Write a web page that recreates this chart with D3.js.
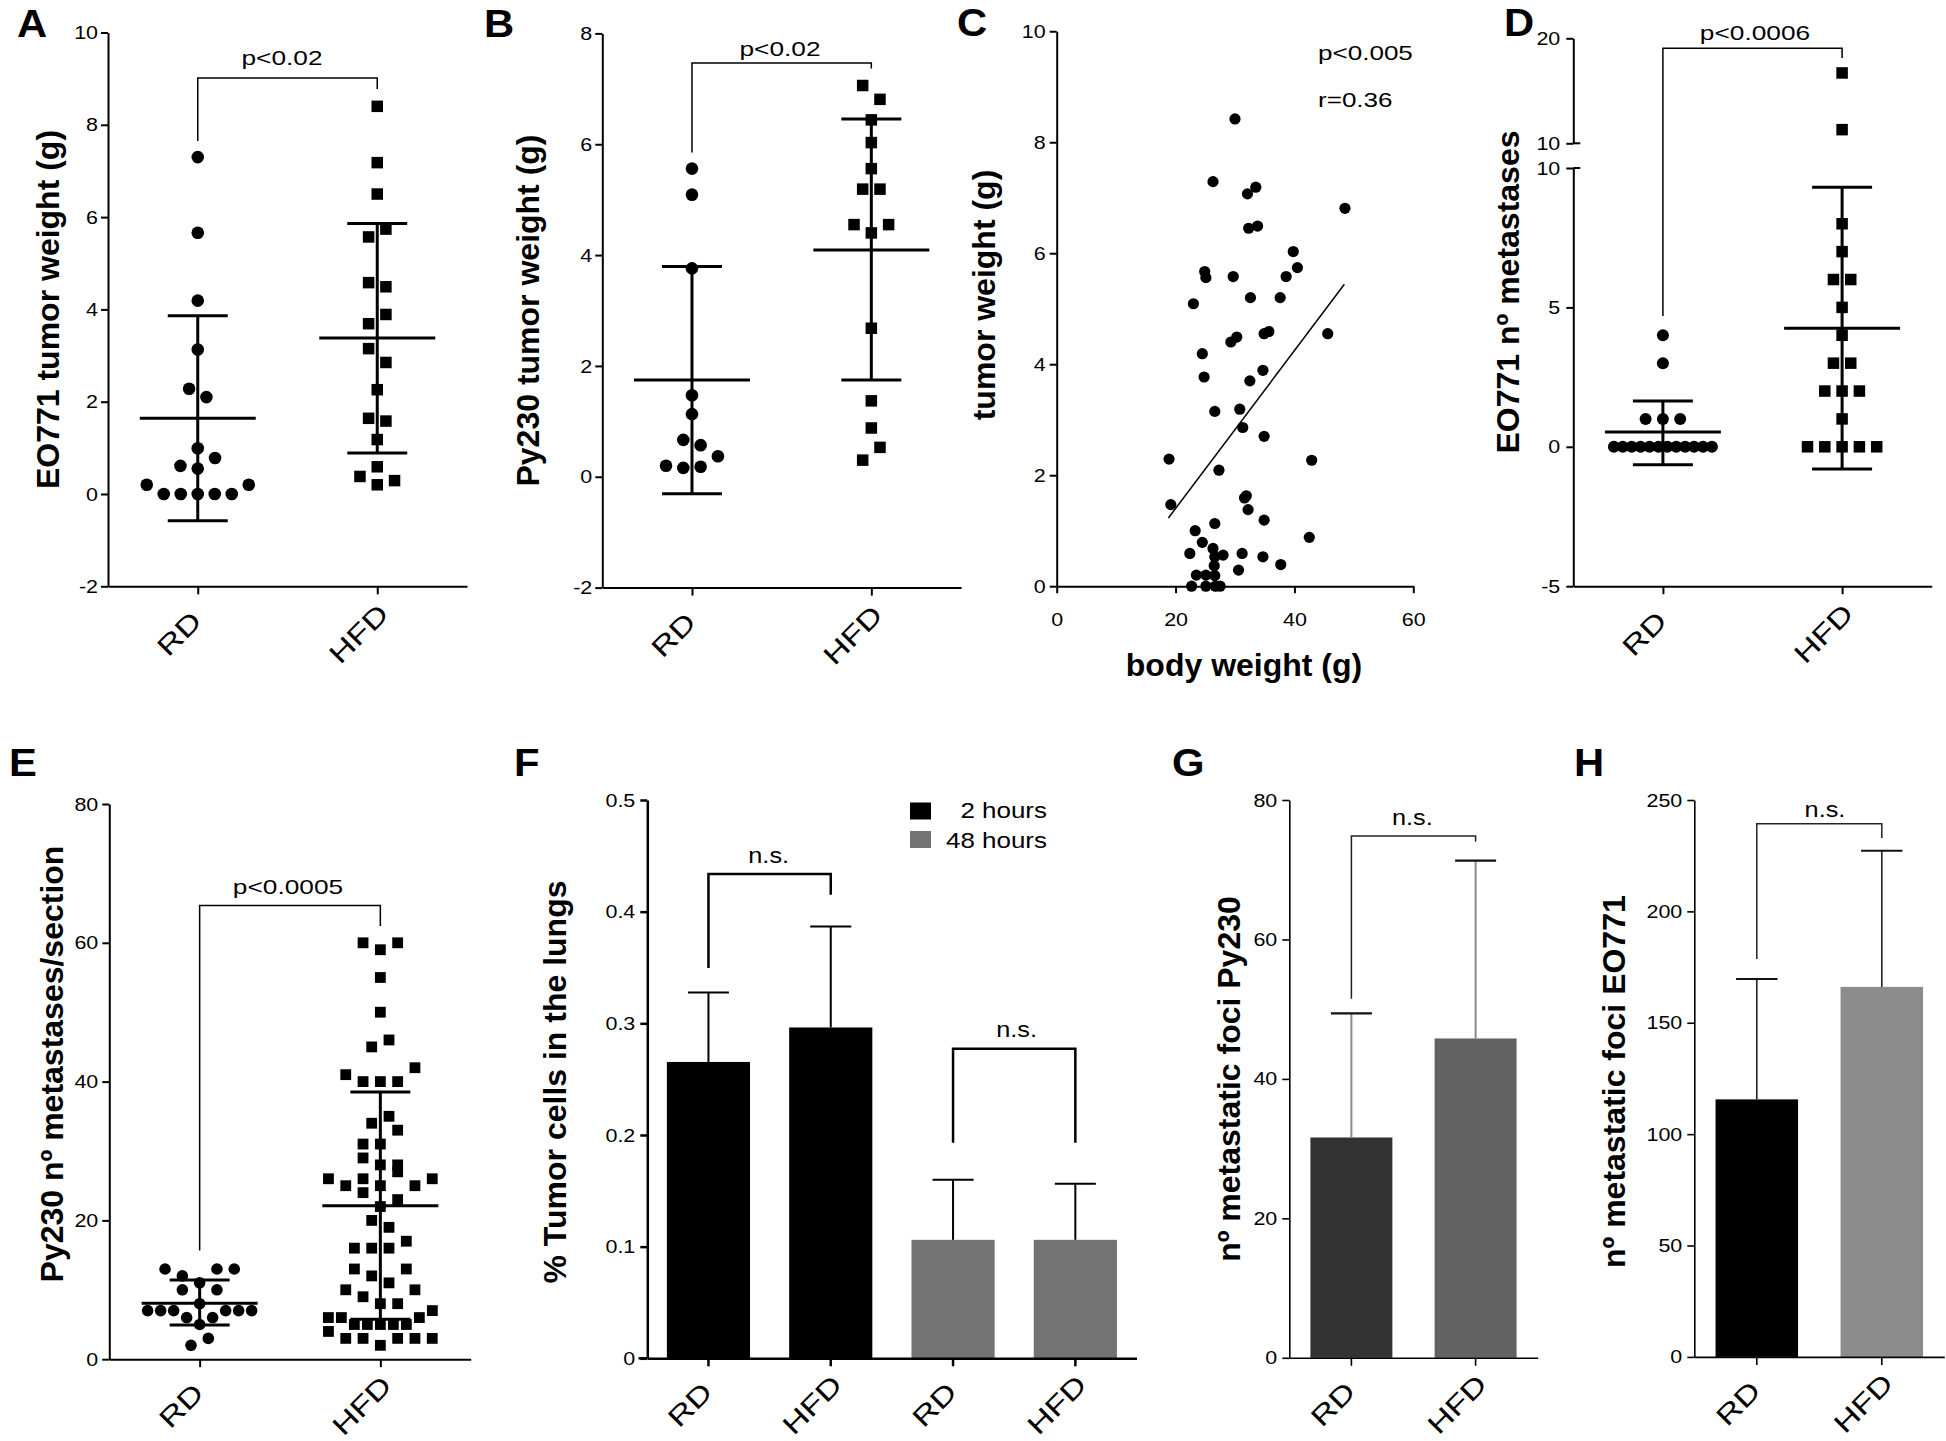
<!DOCTYPE html>
<html><head><meta charset="utf-8">
<script src="https://cdn.jsdelivr.net/npm/d3@7"></script>
<style>
body{margin:0;background:#fff}
svg{display:block}
text{font-family:"Liberation Sans",Arial,Helvetica,sans-serif}
</style>
</head><body>
<svg id="fig" width="1946" height="1441"></svg>
<script>
// ---------------- DATA ----------------
const cats = ["RD", "HFD"];

// A: EO771 tumor weight (g)
const aRD  = [7.3, 5.66, 4.19, 3.13, 2.1, 2.28, 0.99, 0.55, 0.78, 0.61, 0, 0, 0, 0, 0, 0.2, 0.2];
const aHFD = [8.4, 7.18, 6.5, 5.74, 5.57, 4.49, 4.58, 3.89, 3.69, 2.85, 3.15, 2.26, 1.58, 1.64, 1.18, 0.59, 0.2, 0.29, 0.38];
const aMean = [1.64, 3.38], aSdLow = [-0.58, 0.89], aSdHigh = [3.86, 5.86];
const aTicks = [-2, 0, 2, 4, 6, 8, 10];

// B: Py230 tumor weight (g)
const bRD  = [5.56, 5.09, 3.76, 1.47, 1.13, 0.57, 0.665, 0.18, 0.16, 0.37, 0.2];
const bHFD = [6.81, 7.06, 6.44, 6.03, 5.56, 5.19, 5.19, 4.40, 4.55, 4.55, 2.68, 1.37, 0.88, 0.53, 0.30];
const bMean = [1.745, 4.09], bSdLow = [-0.305, 1.745], bSdHigh = [3.795, 6.455];
const bTicks = [-2, 0, 2, 4, 6, 8];

// C: tumor weight vs body weight
const cBody  = [30.0, 26.3, 32.1, 33.5, 48.5, 32.3, 33.8, 39.8, 24.9, 25.1, 29.7, 40.5, 38.6, 23.0, 32.6, 37.6, 29.3, 30.3, 34.9, 35.7, 45.6, 24.5, 24.8, 34.7, 32.5, 26.6, 30.8, 31.3, 34.9, 18.9, 42.9, 27.3, 19.2, 31.6, 31.9, 32.2, 26.6, 34.9, 23.3, 42.5, 24.5, 26.3, 22.4, 28.0, 31.2, 34.7, 37.7, 26.6, 26.5, 30.6, 23.5, 25.1, 26.6, 22.7, 25.1, 26.7, 27.5];
const cTumor = [8.42, 7.29, 7.07, 7.19, 6.81, 6.45, 6.49, 6.03, 5.67, 5.56, 5.58, 5.74, 5.58, 5.09, 5.2, 5.2, 4.40, 4.49, 4.55, 4.59, 4.55, 4.19, 3.77, 3.89, 3.70, 3.15, 3.19, 2.86, 2.70, 2.29, 2.27, 2.09, 1.47, 1.59, 1.63, 1.38, 1.13, 1.19, 1.0, 0.88, 0.79, 0.68, 0.59, 0.56, 0.59, 0.53, 0.39, 0.53, 0.37, 0.29, 0.2, 0.2, 0.19, 0, 0, 0, 0];
const cFitX = [18.8, 48.4], cFitY = [1.23, 5.44];
const cXTicks = [0, 20, 40, 60], cYTicks = [0, 2, 4, 6, 8, 10];

// D: EO771 nº metastases (broken axis)
const dRD  = [4, 3, 1, 1, 1, 0, 0, 0, 0, 0, 0, 0, 0, 0, 0, 0, 0];
const dHFD = [16.7, 11.3, 8, 7, 6, 6, 5, 4, 3, 3, 2, 2, 2, 1, 0, 0, 0, 0, 0];
const dMean = [0.53, 4.25], dSdLow = [-0.64, -0.80], dSdHigh = [1.64, 9.31];
const dTicksLow = [-5, 0, 5, 10], dTicksHigh = [10, 20];

// E: Py230 nº metastases/section
const eRD  = [11, 13, 12, 13, 13, 8, 10, 10, 5, 6, 6, 7, 7, 7, 7, 7, 7, 3, 2];
const eHFD = [59, 60, 60, 55, 50, 46, 45, 40, 40, 40, 42, 41, 35, 34, 31, 33, 31, 28, 28, 29, 25, 27, 26, 25, 25, 26, 26, 22, 23, 24, 19, 20, 16, 16, 17, 16, 11, 12, 13, 13, 8, 8, 9, 10, 10, 5, 5, 5, 5, 5, 6, 6, 7, 6, 2, 3, 3, 3, 3, 3, 4];
const eMean = [8.05, 22.1], eSdLow = [4.93, 5.74], eSdHigh = [11.4, 38.5];
const eTicks = [0, 20, 40, 60, 80];

// F: % tumor cells in the lungs
const fGroups = ["RD", "HFD", "RD", "HFD"];
const fSeries = ["2 hours", "2 hours", "48 hours", "48 hours"];
const fMean = [0.2654, 0.2963, 0.1061, 0.1061];
const fErr  = [0.0622, 0.0904, 0.0537, 0.0503];
const fTicks = [0, 0.1, 0.2, 0.3, 0.4, 0.5];
const fLegend = ["2 hours", "48 hours"];

// G: nº metastatic foci Py230
const gMean = [31.6, 45.8], gErr = [17.8, 25.5];
const gTicks = [0, 20, 40, 60, 80];

// H: nº metastatic foci EO771
const hMean = [115.6, 166.1], hErr = [54.1, 61.1];
const hTicks = [0, 50, 100, 150, 200, 250];

// ---------------- HELPERS ----------------
const svg = d3.select("#fig");
svg.append("rect").attr("width", 1946).attr("height", 1441).attr("fill", "#fff");

function stretch(sel, f) {
  sel.each(function () {
    const L = this.getComputedTextLength();
    this.setAttribute("textLength", L * f);
    this.setAttribute("lengthAdjust", "spacingAndGlyphs");
  });
}
function label(g, s, o) {
  const t = g.append("text").text(s)
    .attr("font-size", o.size)
    .attr("font-weight", o.bold ? "bold" : "normal")
    .attr("text-anchor", o.anchor || "start")
    .attr("fill", o.fill || "#000");
  if (o.rotate) t.attr("transform", `translate(${o.x},${o.y}) rotate(${o.rotate})`);
  else t.attr("x", o.x).attr("y", o.y);
  if (o.stretch && o.stretch !== 1) stretch(t, o.stretch);
  return t;
}
function styleAxis(ax, sw) {
  ax.attr("font-family", null).attr("font-size", null);
  ax.select(".domain").attr("stroke", "#000").attr("stroke-width", sw);
  ax.selectAll(".tick line").attr("stroke", "#000").attr("stroke-width", sw);
  const tx = ax.selectAll(".tick text").attr("font-size", 19).attr("fill", "#000");
  stretch(tx, 1.13);
}
function yAxis(g, scale, ticks, x, opt = {}) {
  const ax = g.append("g").attr("transform", `translate(${x},0)`)
    .call(d3.axisLeft(scale).tickValues(ticks).tickSize(7).tickPadding(opt.pad || 4).tickSizeOuter(0)
      .tickFormat(opt.fmt || (d => d)));
  styleAxis(ax, opt.sw || 2);
  return ax;
}
function xAxisBlank(g, scale, y, sw = 2) {
  const ax = g.append("g").attr("transform", `translate(0,${y})`)
    .call(d3.axisBottom(scale).tickSize(8).tickSizeOuter(0).tickFormat(() => ""));
  ax.attr("font-family", null).attr("font-size", null);
  ax.select(".domain").attr("stroke", "#000").attr("stroke-width", sw);
  ax.selectAll(".tick line").attr("stroke", "#000").attr("stroke-width", sw);
  ax.selectAll(".tick text").remove();
  return ax;
}
function catLabels(g, xs, names, axisY, dy) {
  names.forEach((n, i) => label(g, n, { x: xs[i] - 12, y: axisY + dy, rotate: -45, anchor: "middle", size: 27, stretch: 1.27 }));
}
function bracket(g, x1, y1, yTop, x2, y2, txt, tx, ty, o = {}) {
  g.append("path").attr("d", `M${x1},${y1}V${yTop}H${x2}V${y2}`)
    .attr("fill", "none").attr("stroke", o.stroke || "#000").attr("stroke-width", o.sw || 1.5);
  label(g, txt, { x: tx, y: ty, size: o.size || 21, anchor: "middle", stretch: o.stretch || 1.25 });
}
// GraphPad-like row scatter: rows of near-equal values, centred, spaced
function swarm(vals, ys, thr = 15, step = 17.3, maxHalf = 51) {
  const idx = vals.map((v, i) => i).sort((a, b) => vals[a] - vals[b] || a - b);
  const rows = []; let cur = null;
  idx.forEach(i => {
    const y = ys(vals[i]);
    if (cur && Math.abs(y - cur.y0) < thr) cur.m.push(i);
    else { cur = { y0: y, m: [i] }; rows.push(cur); }
  });
  const dx = new Array(vals.length).fill(0);
  rows.forEach(r => {
    const m = r.m.slice().sort((a, b) => a - b), n = m.length;
    if (n === 1) return;
    const s = Math.min(step, 2 * maxHalf / (n - 1));
    const slots = d3.range(n).map(k => (k - (n - 1) / 2) * s)
      .sort((a, b) => Math.abs(a) - Math.abs(b) || b - a);
    m.forEach((i, j) => dx[i] = slots[j]);
  });
  return dx;
}
function dots(g, vals, cx, ys, shape, o = {}) {
  const dx = swarm(vals, ys, 15, 17.3, o.maxHalf || 51);
  const pts = vals.map((v, i) => ({ x: cx + dx[i], y: ys(v) }));
  if (shape === "circle") {
    g.append("g").selectAll("circle").data(pts).join("circle")
      .attr("cx", d => d.x).attr("cy", d => d.y).attr("r", o.r || 6).attr("fill", "#000");
  } else {
    const s = o.s || 11.5;
    g.append("g").selectAll("rect").data(pts).join("rect")
      .attr("x", d => d.x - s / 2).attr("y", d => d.y - s / 2).attr("width", s).attr("height", s).attr("fill", "#000");
  }
}
function meanSd(g, cx, ys, mean, lo, hi) {
  const w = 58, c = 30;
  const gg = g.append("g").attr("stroke", "#000").attr("stroke-width", 3);
  gg.append("line").attr("x1", cx).attr("x2", cx).attr("y1", ys(lo)).attr("y2", ys(hi));
  gg.append("line").attr("x1", cx - w).attr("x2", cx + w).attr("y1", ys(mean)).attr("y2", ys(mean));
  gg.append("line").attr("x1", cx - c).attr("x2", cx + c).attr("y1", ys(lo)).attr("y2", ys(lo));
  gg.append("line").attr("x1", cx - c).attr("x2", cx + c).attr("y1", ys(hi)).attr("y2", ys(hi));
}
function panelLetter(s, x, y) {
  label(svg, s, { x, y, size: 38, bold: true, stretch: 1.1 });
}

// ---------------- PANEL A ----------------
{
  const g = svg.append("g");
  const y = d3.scaleLinear().domain([-2, 10]).range([586.3, 32.5]);
  const x = d3.scalePoint().domain(cats).range([108, 467]).padding(0.5);
  yAxis(g, y, aTicks, 108, { pad: 3 });
  xAxisBlank(g, x, 586.3);
  dots(g, aRD, x("RD"), y, "circle", { r: 6.3 });
  dots(g, aHFD, x("HFD"), y, "square");
  meanSd(g, x("RD"), y, aMean[0], aSdLow[0], aSdHigh[0]);
  meanSd(g, x("HFD"), y, aMean[1], aSdLow[1], aSdHigh[1]);
  bracket(g, x("RD"), 141, 78, x("HFD"), 89, "p<0.02", 282, 65);
  catLabels(g, [x("RD"), x("HFD")], cats, 586.3, 54);
  label(g, "EO771  tumor weight (g)", { x: 59, y: 309.5, rotate: -90, anchor: "middle", size: 32, bold: true });
  panelLetter("A", 17, 37);
}
// ---------------- PANEL B ----------------
{
  const g = svg.append("g");
  const y = d3.scaleLinear().domain([-2, 8]).range([587.6, 33.4]);
  const x = d3.scalePoint().domain(cats).range([602.3, 961]).padding(0.5);
  yAxis(g, y, bTicks, 602.3, { pad: 3 });
  xAxisBlank(g, x, 587.6);
  dots(g, bRD, x("RD"), y, "circle", { r: 6.3 });
  dots(g, bHFD, x("HFD"), y, "square");
  meanSd(g, x("RD"), y, bMean[0], bSdLow[0], bSdHigh[0]);
  meanSd(g, x("HFD"), y, bMean[1], bSdLow[1], bSdHigh[1]);
  bracket(g, x("RD"), 152.6, 62.9, x("HFD"), 68.5, "p<0.02", 780, 56.4);
  catLabels(g, [x("RD"), x("HFD")], cats, 587.6, 54);
  label(g, "Py230  tumor weight (g)", { x: 539, y: 310.5, rotate: -90, anchor: "middle", size: 32, bold: true });
  panelLetter("B", 484, 37);
}
// ---------------- PANEL C ----------------
{
  const g = svg.append("g");
  const x = d3.scaleLinear().domain([0, 60]).range([1056.7, 1413.3]);
  const y = d3.scaleLinear().domain([0, 10]).range([586.2, 31.25]);
  yAxis(g, y, cYTicks, 1056.7, { pad: 4 });
  const ax = g.append("g").attr("transform", "translate(0,586.2)")
    .call(d3.axisBottom(x).tickValues(cXTicks).tickSize(7).tickPadding(19).tickSizeOuter(0));
  styleAxis(ax, 2);
  g.append("g").selectAll("circle").data(cBody.map((b, i) => [b, cTumor[i]])).join("circle")
    .attr("cx", d => x(d[0])).attr("cy", d => y(d[1])).attr("r", 5.6).attr("fill", "#000");
  g.append("line").attr("x1", x(cFitX[0])).attr("y1", y(cFitY[0])).attr("x2", x(cFitX[1])).attr("y2", y(cFitY[1]))
    .attr("stroke", "#000").attr("stroke-width", 1.5);
  label(g, "p<0.005", { x: 1318, y: 60, size: 21, stretch: 1.24 });
  label(g, "r=0.36", { x: 1318, y: 107, size: 21, stretch: 1.24 });
  label(g, "tumor weight (g)", { x: 995, y: 295, rotate: -90, anchor: "middle", size: 32, bold: true });
  label(g, "body weight (g)", { x: 1244, y: 676, anchor: "middle", size: 32, bold: true });
  panelLetter("C", 957, 36);
}
// ---------------- PANEL D ----------------
{
  const g = svg.append("g");
  const yHi = d3.scaleLinear().domain([10, 20]).range([143.3, 38.3]);
  const yLo = d3.scaleLinear().domain([-5, 10]).range([586.2, 168]);
  const ys = v => (v > 10 ? yHi(v) : yLo(v));
  const ax0 = 1573.3;
  const x = d3.scalePoint().domain(cats).range([ax0, 1931.7]).padding(0.5);
  yAxis(g, yHi, dTicksHigh, ax0, { pad: 6 });
  yAxis(g, yLo, dTicksLow, ax0, { pad: 6 });
  [yHi(10), yLo(10)].forEach(yy => g.append("line").attr("x1", ax0).attr("x2", ax0 + 7).attr("y1", yy).attr("y2", yy)
    .attr("stroke", "#000").attr("stroke-width", 2));
  xAxisBlank(g, x, 586.2);
  dots(g, dRD, x("RD"), ys, "circle", { r: 6, maxHalf: 49 });
  dots(g, dHFD, x("HFD"), ys, "square", { s: 11.5 });
  meanSd(g, x("RD"), ys, dMean[0], dSdLow[0], dSdHigh[0]);
  meanSd(g, x("HFD"), ys, dMean[1], dSdLow[1], dSdHigh[1]);
  bracket(g, x("RD"), 316, 48.2, x("HFD"), 58, "p<0.0006", 1755, 40);
  catLabels(g, [x("RD"), x("HFD")], cats, 586.2, 54);
  label(g, "EO771 n\u00BA metastases", { x: 1519, y: 292, rotate: -90, anchor: "middle", size: 32, bold: true });
  panelLetter("D", 1504, 36);
}
// ---------------- PANEL E ----------------
{
  const g = svg.append("g");
  const y = d3.scaleLinear().domain([0, 80]).range([1359.2, 804]);
  const x = d3.scalePoint().domain(cats).range([109.3, 470.7]).padding(0.5);
  yAxis(g, y, eTicks, 109.3, { pad: 4 });
  xAxisBlank(g, x, 1359.2);
  dots(g, eRD, x("RD"), y, "circle", { r: 5.8, maxHalf: 52 });
  dots(g, eHFD, x("HFD"), y, "square", { s: 10.8, maxHalf: 52 });
  meanSd(g, x("RD"), y, eMean[0], eSdLow[0], eSdHigh[0]);
  meanSd(g, x("HFD"), y, eMean[1], eSdLow[1], eSdHigh[1]);
  bracket(g, x("RD"), 1250.6, 905.6, x("HFD"), 925.9, "p<0.0005", 288, 893.8);
  catLabels(g, [x("RD"), x("HFD")], cats, 1359.2, 53);
  label(g, "Py230 n\u00BA metastases/section", { x: 62.5, y: 1064, rotate: -90, anchor: "middle", size: 32, bold: true });
  panelLetter("E", 9, 776);
}
// ---------------- PANEL F ----------------
{
  const g = svg.append("g");
  const y = d3.scaleLinear().domain([0, 0.5]).range([1358.3, 800]);
  const x = d3.scaleBand().domain(d3.range(fMean.length)).range([647.3, 1136.5]).paddingInner(0.32).paddingOuter(0.16);
  const col = d3.scaleOrdinal().domain(fLegend).range(["#000000", "#737373"]);
  yAxis(g, y, fTicks, 647.3, { pad: 5, sw: 2.5, fmt: d => (d === 0 ? "0" : d3.format(".1f")(d)) });
  g.append("g").selectAll("rect").data(fMean).join("rect")
    .attr("x", (d, i) => x(i)).attr("width", x.bandwidth())
    .attr("y", d => y(d)).attr("height", d => y(0) - y(d))
    .attr("fill", (d, i) => col(fSeries[i]));
  const eb = g.append("g").attr("stroke", "#000").attr("stroke-width", 2);
  fMean.forEach((m, i) => {
    const cx = x(i) + x.bandwidth() / 2;
    eb.append("line").attr("x1", cx).attr("x2", cx).attr("y1", y(m)).attr("y2", y(m + fErr[i]));
    eb.append("line").attr("x1", cx - 20.5).attr("x2", cx + 20.5).attr("y1", y(m + fErr[i])).attr("y2", y(m + fErr[i]));
  });
  xAxisBlank(g, x, 1358.3, 2.5);
  g.append("line").attr("x1", 638.5).attr("x2", 647.3).attr("y1", 1358.3).attr("y2", 1358.3).attr("stroke", "#000").attr("stroke-width", 2.5);
  const cxs = d3.range(fMean.length).map(i => x(i) + x.bandwidth() / 2);
  bracket(g, cxs[0], 968, 873.9, cxs[1], 894.7, "n.s.", 768.7, 863, { sw: 2.5, size: 22, stretch: 1.15 });
  bracket(g, cxs[2], 1142.8, 1048.8, cxs[3], 1142.8, "n.s.", 1016.6, 1036.5, { sw: 2.5, size: 22, stretch: 1.15 });
  catLabels(g, cxs, fGroups, 1358.3, 53);
  fLegend.forEach((s, i) => {
    g.append("rect").attr("x", 910).attr("y", 802.5 + i * 28.5).attr("width", 21).attr("height", 17).attr("fill", col(s));
    label(g, s, { x: 1047, y: 818 + i * 30, anchor: "end", size: 22, stretch: 1.18 });
  });
  label(g, "% Tumor cells in the lungs", { x: 566, y: 1082, rotate: -90, anchor: "middle", size: 32, bold: true });
  panelLetter("F", 514, 776);
}
// ---------------- PANEL G ----------------
{
  const g = svg.append("g");
  const y = d3.scaleLinear().domain([0, 80]).range([1357.8, 800]);
  const x = d3.scaleBand().domain(cats).range([1289.3, 1537.7]).paddingInner(0.34).paddingOuter(0.17);
  const col = d3.scaleOrdinal().domain(cats).range(["#333333", "#626262"]);
  yAxis(g, y, gTicks, 1289.3, { pad: 5, sw: 1.6 });
  g.append("g").selectAll("rect").data(gMean).join("rect")
    .attr("x", (d, i) => x(cats[i])).attr("width", x.bandwidth())
    .attr("y", d => y(d)).attr("height", d => y(0) - y(d)).attr("fill", (d, i) => col(cats[i]));
  gMean.forEach((m, i) => {
    const cx = x(cats[i]) + x.bandwidth() / 2;
    g.append("line").attr("x1", cx).attr("x2", cx).attr("y1", y(m)).attr("y2", y(m + gErr[i])).attr("stroke", "#8a8a8a").attr("stroke-width", 2);
    g.append("line").attr("x1", cx - 20.5).attr("x2", cx + 20.5).attr("y1", y(m + gErr[i])).attr("y2", y(m + gErr[i])).attr("stroke", "#111").attr("stroke-width", 2.2);
  });
  xAxisBlank(g, x, 1357.8, 1.6);
  const cxs = cats.map(c => x(c) + x.bandwidth() / 2);
  bracket(g, cxs[0], 998.7, 836, cxs[1], 841.8, "n.s.", 1412.3, 825.2, { sw: 1.5, size: 22, stretch: 1.15, stroke: "#222" });
  catLabels(g, cxs, cats, 1357.8, 53);
  label(g, "n\u00BA metastatic foci Py230", { x: 1240, y: 1079, rotate: -90, anchor: "middle", size: 32, bold: true });
  panelLetter("G", 1172, 776);
}
// ---------------- PANEL H ----------------
{
  const g = svg.append("g");
  const y = d3.scaleLinear().domain([0, 250]).range([1356.9, 800]);
  const x = d3.scaleBand().domain(cats).range([1694.3, 1944.3]).paddingInner(0.34).paddingOuter(0.17);
  const col = d3.scaleOrdinal().domain(cats).range(["#000000", "#8c8c8c"]);
  yAxis(g, y, hTicks, 1694.3, { pad: 5, sw: 1.6 });
  g.append("g").selectAll("rect").data(hMean).join("rect")
    .attr("x", (d, i) => x(cats[i])).attr("width", x.bandwidth())
    .attr("y", d => y(d)).attr("height", d => y(0) - y(d)).attr("fill", (d, i) => col(cats[i]));
  hMean.forEach((m, i) => {
    const cx = x(cats[i]) + x.bandwidth() / 2;
    g.append("line").attr("x1", cx).attr("x2", cx).attr("y1", y(m)).attr("y2", y(m + hErr[i])).attr("stroke", "#222").attr("stroke-width", 1.6);
    g.append("line").attr("x1", cx - 20.7).attr("x2", cx + 20.7).attr("y1", y(m + hErr[i])).attr("y2", y(m + hErr[i])).attr("stroke", "#111").attr("stroke-width", 2);
  });
  xAxisBlank(g, x, 1356.9, 1.6);
  const cxs = cats.map(c => x(c) + x.bandwidth() / 2);
  bracket(g, cxs[0], 959, 823.8, cxs[1], 838, "n.s.", 1825, 816.7, { sw: 1.5, size: 22, stretch: 1.15, stroke: "#222" });
  catLabels(g, cxs, cats, 1356.9, 53);
  label(g, "n\u00BA metastatic foci EO771", { x: 1625, y: 1081.6, rotate: -90, anchor: "middle", size: 32, bold: true });
  panelLetter("H", 1574, 776);
}
</script>
</body></html>
